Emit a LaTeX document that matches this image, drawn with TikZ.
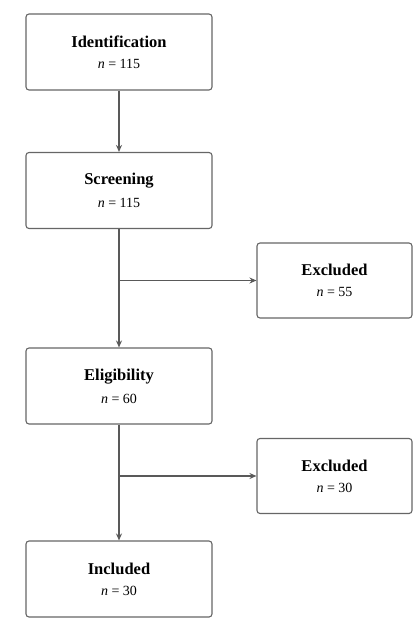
\documentclass[tikz,border=0pt]{standalone}
\usepackage{fontspec}
\setmainfont{Liberation Serif}
\usepackage{tikz}
\usetikzlibrary{arrows.meta}

\tikzset{
  stagebox/.style={draw=black!60, line width=1.1pt, rounded corners=3pt, fill=white,
    minimum width=186pt, minimum height=76pt, align=center, inner sep=0pt},
  exclbox/.style={stagebox, minimum width=155pt, minimum height=75pt},
  flow/.style={draw=black!65, line width=1.2pt, -{Stealth[length=7pt,width=6pt]}},
  branch/.style={draw=black!65, line width=1.2pt}
}
\newcommand{\stagetext}[2]{{\fontsize{16.5}{18}\selectfont\bfseries #1}\\[9pt]{\fontsize{14}{16}\selectfont\textit{n} = #2}}

\begin{document}
\begin{tikzpicture}[x=1pt,y=-1pt]
    \useasboundingbox (0,0) rectangle (413,640);

    % main stages
    \node[stagebox] (ident) at (119,52) {\stagetext{Identification}{115}};
    \node[stagebox] (screen) at (119,190.5) {\stagetext{Screening}{115}};
    \node[stagebox] (elig) at (119,386) {\stagetext{Eligibility}{60}};
    \node[stagebox] (incl) at (119,579) {\stagetext{Included}{30}};

    % exclusions
    \node[exclbox] (excla) at (334.5,280.5) {\stagetext{Excluded}{55}};
    \node[exclbox] (exclb) at (334.5,476) {\stagetext{Excluded}{30}};

    \coordinate (splita) at (screen.south |- excla.west);
    \coordinate (splitb) at (elig.south |- exclb.west);

    \draw[flow] (ident) -- (screen);
    \draw[flow] (screen) -- (elig);
    \draw[flow] (elig) -- (incl);
    \draw[flow] (splita) -- (excla);
    \draw[flow] (splitb) -- (exclb);
\end{tikzpicture}
\end{document}
